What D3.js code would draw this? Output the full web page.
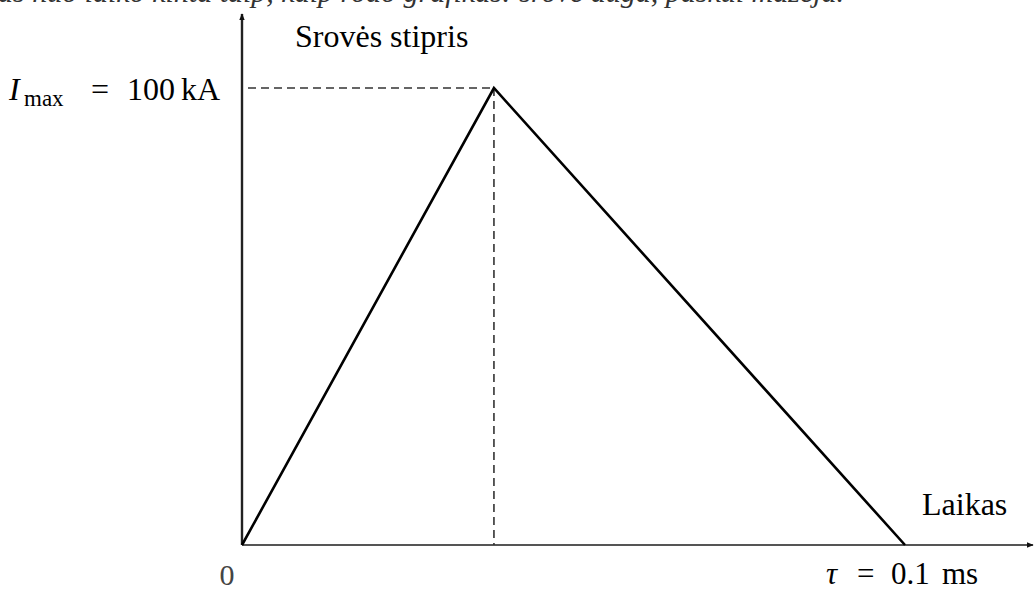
<!DOCTYPE html>
<html>
<head>
<meta charset="utf-8">
<script src="https://cdn.jsdelivr.net/npm/d3@7"></script>
<style>
  html, body { margin: 0; padding: 0; background: #fff; }
  svg { display: block; }
  .serif { font-family: "Liberation Serif", "Times New Roman", serif; fill: #000; }
</style>
</head>
<body>
<script>
// Lightning current pulse: linear rise to the peak, linear fall back to zero
const timeMs = [0, 0.038, 0.1];       // time, ms
const currentKA = [0, 100, 0];        // current, kA
const peakTime = 0.038;
const peakCurrent = 100;
const pulseEnd = 0.1;

const W = 1034, H = 592;
const svg = d3.select("body").append("svg").attr("width", W).attr("height", H);

const x = d3.scaleLinear().domain([0, pulseEnd]).range([242, 905]);
const y = d3.scaleLinear().domain([0, peakCurrent]).range([545, 88]);

// partially visible sentence above the figure
svg.append("text").attr("class", "serif")
  .attr("x", -2).attr("y", 2)
  .style("font-size", "30px").style("font-style", "italic").style("fill", "#333")
  .text("as nuo laiko kinta taip, kaip rodo grafikas: srovė auga, paskui mažėja.");

const defs = svg.append("defs");
defs.append("marker").attr("id", "arrow")
  .attr("viewBox", "0 0 10 10").attr("refX", 9).attr("refY", 5)
  .attr("markerWidth", 7).attr("markerHeight", 7).attr("orient", "auto")
  .attr("markerUnits", "userSpaceOnUse")
  .append("path").attr("d", "M0,1 L10,5 L0,9 Z").attr("fill", "#111");

// axes
svg.append("line")
  .attr("x1", x(0)).attr("y1", y(0)).attr("x2", x(0)).attr("y2", 14)
  .attr("stroke", "#222").attr("stroke-width", 2.4)
  .attr("marker-end", "url(#arrow)");
svg.append("line")
  .attr("x1", x(0)).attr("y1", y(0)).attr("x2", 1033).attr("y2", y(0))
  .attr("stroke", "#555").attr("stroke-width", 2)
  .attr("marker-end", "url(#arrow)");

// dashed guides to the peak
svg.append("line")
  .attr("x1", x(0) + 6).attr("y1", y(peakCurrent)).attr("x2", x(peakTime)).attr("y2", y(peakCurrent))
  .attr("stroke", "#333").attr("stroke-width", 1.6).attr("stroke-dasharray", "8,5");
svg.append("line")
  .attr("x1", x(peakTime)).attr("y1", y(peakCurrent)).attr("x2", x(peakTime)).attr("y2", y(0))
  .attr("stroke", "#333").attr("stroke-width", 1.6).attr("stroke-dasharray", "8,5");

// pulse shape
const line = d3.line().x((d, i) => x(timeMs[i])).y(d => y(d));
svg.append("path").datum(currentKA)
  .attr("d", line)
  .attr("fill", "none").attr("stroke", "#000").attr("stroke-width", 2.6)
  .attr("stroke-linejoin", "miter");

// labels
svg.append("text").attr("class", "serif")
  .attr("x", 295).attr("y", 47).style("font-size", "32px")
  .text("Srovės stipris");

svg.append("text").attr("class", "serif")
  .attr("x", 922).attr("y", 515).style("font-size", "32px")
  .text("Laikas");

const imax = svg.append("text").attr("class", "serif")
  .attr("y", 100).style("font-size", "32px");
imax.append("tspan").attr("x", 9).style("font-style", "italic").text("I");
imax.append("tspan").attr("x", 24).attr("dy", 6).style("font-size", "23px").text("max");
imax.append("tspan").attr("x", 91).attr("dy", -6).text("=");
imax.append("tspan").attr("x", 127).text("100");
imax.append("tspan").attr("x", 181).text("kA");

svg.append("text").attr("class", "serif")
  .attr("x", 227).attr("y", 585).attr("text-anchor", "middle")
  .style("font-size", "30px").style("fill", "#444").text("0");

const tau = svg.append("text").attr("class", "serif")
  .attr("y", 584).style("font-size", "31px");
tau.append("tspan").attr("x", 826).style("font-style", "italic").text("τ");
tau.append("tspan").attr("x", 857).text("=");
tau.append("tspan").attr("x", 891).text("0.1");
tau.append("tspan").attr("x", 942).text("ms");
</script>
</body>
</html>
